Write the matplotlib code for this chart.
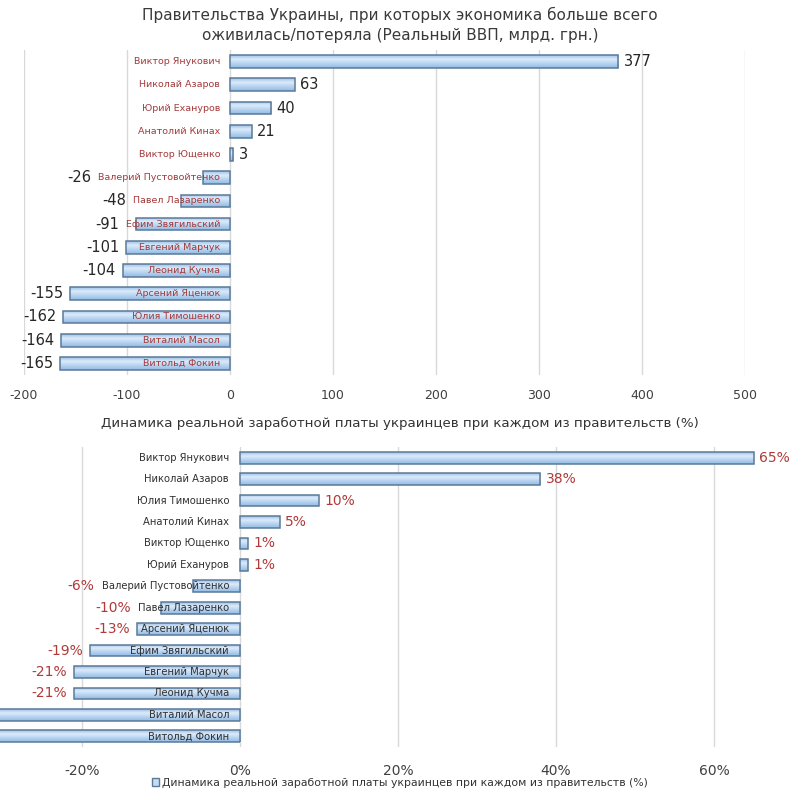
import numpy as np
import matplotlib.pyplot as plt
from matplotlib.colors import LinearSegmentedColormap
from matplotlib.patches import Patch

plt.rcParams['font.family'] = ['DejaVu Sans']
plt.rcParams['axes.unicode_minus'] = False

# real GDP change per government, bn UAH (top chart, listed top to bottom)
gdp_names = ["Виктор Янукович", "Николай Азаров", "Юрий Ехануров", "Анатолий Кинах",
             "Виктор Ющенко", "Валерий Пустовойтенко", "Павел Лазаренко", "Ефим Звягильский",
             "Евгений Марчук", "Леонид Кучма", "Арсений Яценюк", "Юлия Тимошенко",
             "Виталий Масол", "Витольд Фокин"]
gdp_values = [377, 63, 40, 21, 3, -26, -48, -91, -101, -104, -155, -162, -164, -165]
gdp_ticks = [-200, -100, 0, 100, 200, 300, 400, 500]

# real wage change per government, % (bottom chart, listed top to bottom)
wage_names = ["Виктор Янукович", "Николай Азаров", "Юлия Тимошенко", "Анатолий Кинах",
              "Виктор Ющенко", "Юрий Ехануров", "Валерий Пустовойтенко", "Павел Лазаренко",
              "Арсений Яценюк", "Ефим Звягильский", "Евгений Марчук", "Леонид Кучма",
              "Виталий Масол", "Витольд Фокин"]
wage_values = [65, 38, 10, 5, 1, 1, -6, -10, -13, -19, -21, -21, -33, -34]
wage_ticks = [-20, 0, 20, 40, 60]

top_title = "Правительства Украины, при которых экономика больше всего\nоживилась/потеряла (Реальный ВВП, млрд. грн.)"
bottom_title = "Динамика реальной заработной платы украинцев при каждом из правительств (%)"

bar_edge = '#5b7a99'
grad_cmap = LinearSegmentedColormap.from_list('bar', ['#9fc2e8', '#dcebfa', '#b5d2f0', '#93bbe4'])
grad = np.linspace(0, 1, 64).reshape(-1, 1)


def draw_bars(ax, values, xlim):
    n = len(values)
    pos = np.arange(n)[::-1]
    bars = ax.barh(pos, values, height=0.55, facecolor='none', edgecolor=bar_edge,
                   linewidth=1.1, zorder=3)
    for b in bars:
        x0, y0 = b.get_xy()
        im = ax.imshow(grad, cmap=grad_cmap, aspect='auto', origin='upper', zorder=2,
                       extent=(min(x0, x0 + b.get_width()), max(x0, x0 + b.get_width()),
                               y0, y0 + b.get_height()))
        im.set_clip_path(b)
    ax.set_xlim(*xlim)
    ax.set_ylim(-0.5, n - 0.5)
    ax.set_yticks([])
    for s in ax.spines.values():
        s.set_visible(False)
    ax.set_axisbelow(True)
    ax.xaxis.grid(True, color='#d9d9d9', linewidth=1)
    ax.tick_params(axis='x', length=0, colors='#404040')
    return pos


def label_bars(ax, pos, names, values, fmt, name_color, val_color, name_size, val_size, name_pad):
    r = ax.figure.canvas.get_renderer()
    inv = ax.transData.inverted()
    for p, name, v in zip(pos, names, values):
        t = ax.annotate(name, (0, p), xytext=(-name_pad, 0), textcoords='offset points',
                        ha='right', va='center', fontsize=name_size, color=name_color, zorder=4)
        if v >= 0:
            ax.annotate(fmt(v), (v, p), xytext=(4, 0), textcoords='offset points',
                        ha='left', va='center', fontsize=val_size, color=val_color)
        else:
            bb = t.get_window_extent(r)
            x_name = inv.transform((bb.x0, 0))[0]
            ax.annotate(fmt(v), (min(v, x_name), p), xytext=(-5, 0), textcoords='offset points',
                        ha='right', va='center', fontsize=val_size, color=val_color,
                        annotation_clip=True)


fig = plt.figure(figsize=(8, 8), dpi=100)

ax1 = fig.add_axes([24 / 800, 1 - 375 / 800, 721 / 800, 325 / 800])
pos1 = draw_bars(ax1, gdp_values, (-200, 500))
ax1.set_xticks(gdp_ticks)
ax1.tick_params(axis='x', labelsize=9, pad=10)
fig.canvas.draw()
label_bars(ax1, pos1, gdp_names, gdp_values, lambda v: f"{v}",
           '#a33a3a', '#262626', 6.8, 10.5, 7)
fig.text(0.5, 0.991, top_title, ha='center', va='top', fontsize=11,
         color='#3a3a3a', linespacing=1.4)

ax2 = fig.add_axes([0, 1 - 747 / 800, 797 / 800, 300 / 800])
pos2 = draw_bars(ax2, wage_values, (-30.4, 70.5))
ax2.set_xticks(wage_ticks)
ax2.set_xticklabels([f"{t}%" for t in wage_ticks])
ax2.tick_params(axis='x', labelsize=10, pad=12)
fig.canvas.draw()
label_bars(ax2, pos2, wage_names, wage_values, lambda v: f"{v}%",
           '#303030', '#b03a3a', 7.2, 10, 8)
fig.text(0.5, 1 - 423 / 800, bottom_title, ha='center', va='center', fontsize=9.6,
         color='#333333')

fig.legend(handles=[Patch(facecolor='#c5dcf3', edgecolor=bar_edge)],
           labels=[bottom_title], loc='center', bbox_to_anchor=(0.5, 1 - 783 / 800),
           frameon=False, fontsize=7.8, handlelength=0.7, handleheight=0.7,
           handletextpad=0.3, labelcolor='#333333')

fig.savefig('out.png', dpi=100, facecolor='white')
